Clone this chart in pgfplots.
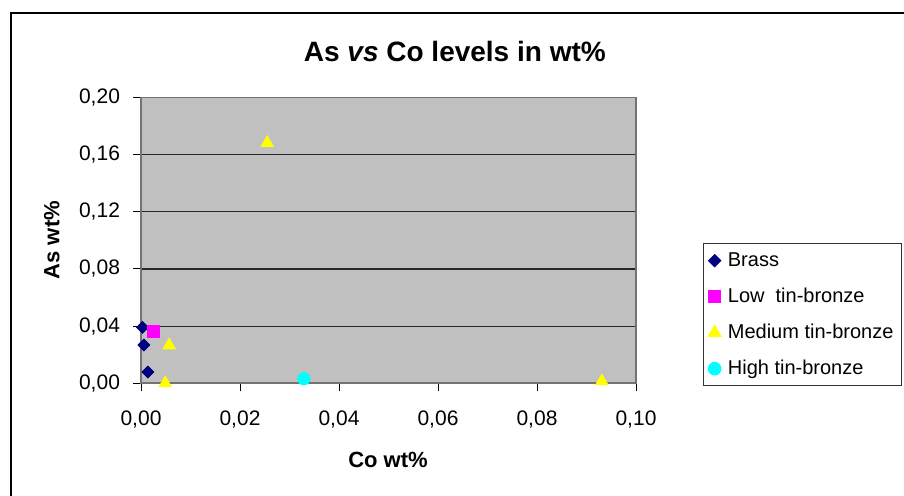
\documentclass[border=0pt]{standalone}
\usepackage{fontspec}
\setmainfont{Liberation Sans}
\usepackage{pgfplots}
\pgfplotsset{compat=1.18}
\definecolor{brass}{HTML}{000080}
\definecolor{lowtb}{HTML}{FF00FF}
\definecolor{medtb}{HTML}{FFFF00}
\definecolor{hightb}{HTML}{00FFFF}
\definecolor{plotbg}{HTML}{C0C0C0}
\begin{document}
\begin{tikzpicture}
\useasboundingbox (0,0) rectangle (452pt,-247.5pt);
\clip (0,0) rectangle (452pt,-247.5pt);
\draw[line width=1pt] (5.5pt,-6.5pt) rectangle (480pt,-270pt);
\begin{axis}[
  at={(70.5pt,-191.65pt)}, anchor=south west,
  scale only axis, width=247.5pt, height=142.9pt,
  xmin=0, xmax=0.1, ymin=0, ymax=0.2,
  xtick={0,0.02,0.04,0.06,0.08,0.1},
  ytick={0,0.04,0.08,0.12,0.16,0.2},
  scaled x ticks=false, scaled y ticks=false,
  /pgf/number format/.cd, use comma, fixed, fixed zerofill, precision=2, assume math mode=true,
  /pgfplots/.cd,
  tick align=outside, major tick length=4pt,
  tick style={black, line width=0.5pt},
  xtick pos=bottom, ytick pos=left,
  ymajorgrids, major grid style={black!85, line width=0.6pt},
  axis background/.style={fill=plotbg},
  axis line style={draw=black!55, line width=0.9pt},
  ticklabel style={font=\fontsize{10.5}{12}\selectfont},
  xticklabel style={yshift=-6pt},
  yticklabel style={xshift=-3pt},
  clip=false,
  title={As \textit{vs} Co levels in wt\%},
  title style={at={(axis description cs:0.634,1.12)}, anchor=center, font=\bfseries\fontsize{14}{16}\selectfont},
  xlabel={Co wt\%},
  xlabel style={at={(axis description cs:0.499,-0.268)}, anchor=center, font=\bfseries\fontsize{11}{13}\selectfont},
  ylabel={As wt\%},
  ylabel style={at={(axis description cs:-0.18,0.501)}, anchor=center, font=\bfseries\fontsize{11}{13}\selectfont},
  legend style={at={(axis description cs:1.135,0.491)}, anchor=north west,
    draw=black!80, line width=0.6pt, fill=white,
    font=\fontsize{10}{12}\selectfont,
    nodes={inner sep=1.5pt, text height=7.5pt, text depth=2pt},
    row sep=5.5pt, inner xsep=2.5pt, inner ysep=2.3pt},
  legend cell align=left,
  legend image code/.code={\path[draw=none, fill=none] (-0.1cm,0cm) -- (0.18cm,0cm); \draw plot coordinates {(0cm,0cm)};},
]
\addplot[only marks, mark=square*, mark size=2.1pt, mark options={rotate=45, fill=brass, draw=brass}]
  coordinates {(0.0003,0.0391) (0.0006,0.0268) (0.0014,0.0079)};
\addlegendentry{Brass}
\addplot[only marks, mark=square*, mark size=3pt, mark options={fill=lowtb, draw=lowtb}]
  coordinates {(0.0025,0.036)};
\addlegendentry{Low\ \ tin-bronze}
\addplot[only marks, mark=triangle*, mark size=3.6pt, mark options={fill=medtb, draw=medtb}]
  coordinates {(0.0255,0.1682) (0.0057,0.0266) (0.0049,0.0001) (0.0931,0.0015)};
\addlegendentry{Medium tin-bronze}
\addplot[only marks, mark=*, mark size=3.1pt, mark options={fill=hightb, draw=hightb}]
  coordinates {(0.0329,0.0032)};
\addlegendentry{High tin-bronze}
\end{axis}
\end{tikzpicture}
\end{document}
